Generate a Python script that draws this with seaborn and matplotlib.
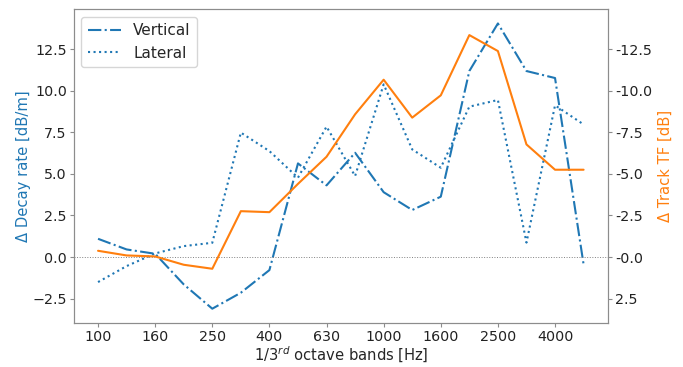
import matplotlib

matplotlib.use("Agg")
import matplotlib.pyplot as plt
import numpy as np
import pandas as pd
import seaborn as sns
from matplotlib import ticker

bands = ["100", "125", "160", "200", "250", "315", "400", "500", "630",
         "800", "1000", "1250", "1600", "2000", "2500", "3150", "4000", "5000"]
vertical = [1.1, 0.46, 0.2, -1.64, -3.1, -2.14, -0.78, 5.63, 4.31,
            6.27, 3.9, 2.83, 3.63, 11.18, 14.04, 11.18, 10.76, -0.44]
lateral = [-1.5, -0.54, 0.22, 0.66, 0.86, 7.48, 6.37, 4.77, 7.84,
           4.87, 10.38, 6.47, 5.37, 9.04, 9.44, 0.87, 9.12, 7.97]
track_tf = [-0.38, -0.1, -0.04, 0.46, 0.7, -2.76, -2.7, -4.4, -6.03,
            -8.58, -10.66, -8.38, -9.72, -13.34, -12.38, -6.77, -5.25, -5.25]

sns.set_style("ticks")
plt.rcParams["font.family"] = ["DejaVu Sans"]
plt.rcParams["axes.edgecolor"] = "#8c8c8c"
plt.rcParams["xtick.color"] = "#8c8c8c"
plt.rcParams["ytick.color"] = "#8c8c8c"
plt.rcParams["xtick.labelcolor"] = "#222222"
plt.rcParams["ytick.labelcolor"] = "#222222"

blue = "#1f77b4"
orange = "#ff7f0e"
fs_tick = 10.3
fs_lab = 10.6

x = np.arange(len(bands))
df = pd.DataFrame({"x": x, "Vertical": vertical, "Lateral": lateral,
                   "track": -np.array(track_tf)})

fig = plt.figure(figsize=(6.83, 3.67), dpi=100)
ax = fig.add_axes([0.108, 0.12, 0.782, 0.855])

sns.lineplot(data=df, x="x", y="Vertical", ax=ax, color=blue, lw=1.5,
             linestyle="-.", label="Vertical")
sns.lineplot(data=df, x="x", y="Lateral", ax=ax, color=blue, lw=1.5,
             linestyle=":", label="Lateral")
ax.axhline(0, color="gray", lw=0.7, ls=":")

ax.set_xticks(x[::2])
ax.set_xticklabels(bands[::2])
ax.tick_params(axis="both", labelsize=fs_tick, length=3, pad=2)
ax.set_xlabel(r"1/3$^{rd}$ octave bands [Hz]", fontsize=fs_lab, labelpad=1)
ax.set_ylabel("Δ Decay rate [dB/m]", fontsize=fs_lab, color=blue, labelpad=1)
ax.legend(loc="upper left", fontsize=11, handlelength=2.2)
ax.margins(x=0.05, y=0.05)

ax2 = ax.twinx()
sns.lineplot(data=df, x="x", y="track", ax=ax2, color=orange, lw=1.5)
ax2.set_ylim(ax.get_ylim())
ax2.set_yticks([-2.5, 0, 2.5, 5, 7.5, 10, 12.5])
ax2.yaxis.set_major_formatter(ticker.FuncFormatter(lambda v, p: f"{-v:.1f}"))
ax2.tick_params(axis="y", labelsize=fs_tick, length=3, pad=2)
ax2.set_ylabel("Δ Track TF [dB]", fontsize=fs_lab, color=orange, labelpad=4)
ax2.set_xlim(ax.get_xlim())

fig.savefig("out.png", dpi=100)
